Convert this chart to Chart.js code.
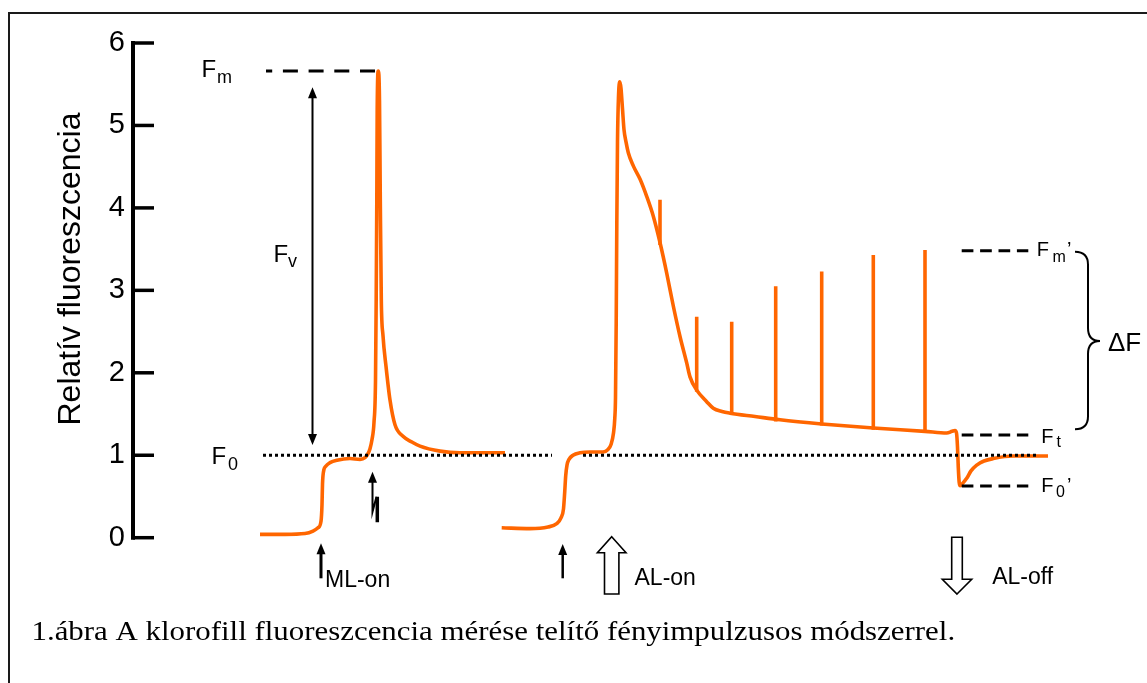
<!DOCTYPE html>
<html><head><meta charset="utf-8">
<script src="https://cdn.jsdelivr.net/npm/chart.js@4/dist/chart.umd.min.js"></script>
<style>html,body{margin:0;padding:0;background:#fff;overflow:hidden}canvas{display:block}</style>
</head><body>
<canvas id="c" width="1147" height="683"></canvas>
<script>
// ---- data (time in arbitrary units, fluorescence relative) ----
const yTicks = [0, 1, 2, 3, 4, 5, 6];
const yTitle = 'Relatív fluoreszcencia';

// dark-adapted trace: ML-on, then saturating pulse (Fm)
const mlTime  = [260, 285, 305, 313, 318, 321, 322, 322.5, 323.5, 326, 330, 337, 350, 360, 365, 368, 370, 372, 374, 375.5, 376.2, 376.8, 377.2, 378.3, 379.5, 380.3, 381.3, 383, 386, 390, 395, 403, 412, 420, 440, 460, 505];
const mlValue = [0.04, 0.04, 0.05, 0.08, 0.12, 0.2, 0.4, 0.65, 0.8, 0.87, 0.91, 0.94, 0.96, 0.95, 0.97, 1.02, 1.08, 1.19, 1.4, 1.9, 2.9, 4.1, 5.2, 5.66, 5.3, 4.1, 2.89, 2.45, 2.08, 1.67, 1.37, 1.23, 1.16, 1.11, 1.05, 1.03, 1.03];

// light-adapted trace: ML-on, AL-on, quenching, AL-off
const alTime  = [501.7, 530, 548, 556.7, 561, 563.5, 564.7, 565.7, 567, 569, 573, 580, 590, 603, 608, 611, 613.5, 614.8, 615.5, 616.2, 616.8, 617.5, 618.5, 619.8, 621, 622.5, 624, 626, 628.3, 633.3, 640, 646.7, 653.3, 660, 666.7, 673.3, 680, 686.7, 690, 696.7, 706.7, 713.3, 722, 730, 755, 780, 821.7, 873.3, 925, 946.7, 952, 955, 956.5, 957.5, 958.3, 959.2, 960.3, 962, 966.7, 971, 976.7, 984, 993.3, 1013, 1048];
const alValue = [0.12, 0.11, 0.13, 0.17, 0.24, 0.35, 0.55, 0.75, 0.88, 0.95, 1.0, 1.03, 1.04, 1.04, 1.07, 1.13, 1.27, 1.45, 1.7, 2.6, 3.8, 4.8, 5.35, 5.53, 5.45, 5.2, 4.95, 4.8, 4.67, 4.51, 4.35, 4.14, 3.90, 3.58, 3.21, 2.81, 2.44, 2.12, 1.95, 1.79, 1.65, 1.57, 1.53, 1.51, 1.47, 1.43, 1.38, 1.33, 1.29, 1.27, 1.29, 1.30, 1.27, 1.1, 0.85, 0.67, 0.63, 0.65, 0.72, 0.81, 0.88, 0.93, 0.96, 0.99, 0.99];

// saturating pulses during actinic light
const pulseTime = [660, 696.7, 731.7, 775.7, 821.7, 873.3, 925];
const pulseBase = [3.55, 1.77, 1.49, 1.41, 1.36, 1.31, 1.27];
const pulseTop  = [4.10, 2.68, 2.62, 3.05, 3.23, 3.43, 3.49];

// reference levels
const levelF0 = 1.0, levelFm = 5.66, levelFmP = 3.48, levelFt = 1.246, levelF0P = 0.627;
const f0LineTime = [263, 552, 583, 1037];
const fmLineTime = [375, 266];
const rightLineTime = [961.7, 1028.3];

const caption = '1.ábra A klorofill fluoreszcencia mérése telítő fényimpulzusos módszerrel.';

// ---- build datasets ----
const ORANGE = '#ff6600';
const SANS = '"Liberation Sans", Arial, sans-serif';
const pts = (xs, ys) => xs.map((x, i) => ({x, y: ys[i]}));
const pulseData = [];
pulseTime.forEach((t, i) => { pulseData.push({x: t, y: pulseBase[i]}, {x: t, y: pulseTop[i]}, {x: t + 0.01, y: null}); });
const f0Data = [{x: f0LineTime[0], y: levelF0}, {x: f0LineTime[1], y: levelF0}, {x: (f0LineTime[1] + f0LineTime[2]) / 2, y: null}, {x: f0LineTime[2], y: levelF0}, {x: f0LineTime[3], y: levelF0}];
const lvl = (xs, v) => xs.map(x => ({x, y: v}));

const dashed = (data, dash, order) => ({data, borderColor: '#000', borderWidth: 3, borderDash: dash, pointRadius: 0, tension: 0, spanGaps: false, order});

const annot = {
  id: 'annot',
  afterDraw(chart) {
    const ctx = chart.ctx, xs = chart.scales.x, ys = chart.scales.y;
    const px = v => xs.getPixelForValue(v), py = v => ys.getPixelForValue(v);
    const y0 = py(0);
    ctx.save();
    // frame
    ctx.strokeStyle = '#1a1a1a'; ctx.lineWidth = 2;
    ctx.beginPath(); ctx.moveTo(9, 690); ctx.lineTo(9, 13); ctx.lineTo(1150, 13); ctx.stroke();
    // y axis line + inward ticks
    const ax = chart.chartArea.left;
    ctx.strokeStyle = '#000'; ctx.lineWidth = 4; ctx.lineCap = 'butt';
    ctx.beginPath(); ctx.moveTo(ax, py(6) - 2); ctx.lineTo(ax, py(0) + 2); ctx.stroke();
    ctx.lineWidth = 3.5;
    yTicks.forEach(v => { ctx.beginPath(); ctx.moveTo(ax, py(v)); ctx.lineTo(ax + 21, py(v)); ctx.stroke(); });
    // y title
    ctx.fillStyle = '#000';
    ctx.save(); ctx.translate(79.5, 269); ctx.rotate(-Math.PI / 2);
    ctx.font = '32px ' + SANS; ctx.textAlign = 'center'; ctx.textBaseline = 'alphabetic';
    ctx.fillText(yTitle, 0, 0); ctx.restore();

    ctx.textAlign = 'left'; ctx.textBaseline = 'alphabetic';
    const txt = (s, x, y, size) => { ctx.font = size + 'px ' + SANS; ctx.fillText(s, x, y); };
    // left labels
    const yFm = py(levelFm), yF0 = py(levelF0);
    txt('F', 201.5, yFm + 5.7, 24); txt('m', 217, yFm + 11.7, 18);
    txt('F', 273.5, py(3.35) + 0.5, 24); txt('v', 288, py(3.35) + 5.5, 18);
    txt('F', 211.5, yF0 + 9, 24); txt('0', 228, yF0 + 14.5, 18);
    // right labels
    const yFmP = py(levelFmP), yFt = py(levelFt), yF0P = py(levelF0P);
    txt('F', 1036.8, yFmP + 5, 20); txt('m', 1052.5, yFmP + 11, 16); txt('\u2019', 1067, yFmP + 5, 20);
    txt('F', 1041.2, yFt + 7.7, 20); txt('t', 1056.5, yFt + 11.7, 16);
    txt('F', 1041.2, yF0P + 5.7, 20); txt('0', 1056, yF0P + 10.7, 16); txt('\u2019', 1067, yF0P + 5.7, 20);
    txt('\u0394F', 1108, py(2.27) + 0.5, 26);
    // brace
    ctx.lineWidth = 2; ctx.strokeStyle = '#000';
    const bt = yFmP + 1, bb = yFt - 5.7, bm = (bt + bb) / 2 + 0.5;
    ctx.beginPath();
    ctx.moveTo(1075, bt);
    ctx.quadraticCurveTo(1088, bt, 1088, bt + 13);
    ctx.lineTo(1088, bm - 13);
    ctx.quadraticCurveTo(1088, bm, 1100, bm);
    ctx.quadraticCurveTo(1088, bm, 1088, bm + 13);
    ctx.lineTo(1088, bb - 13);
    ctx.quadraticCurveTo(1088, bb, 1075, bb);
    ctx.stroke();

    // solid arrows
    const head = (x, tipY, dir, len, half) => {
      ctx.beginPath(); ctx.moveTo(x, tipY); ctx.lineTo(x - half, tipY + dir * len); ctx.lineTo(x + half, tipY + dir * len); ctx.closePath(); ctx.fill();
    };
    // Fv double arrow
    const fvx = px(312.5);
    ctx.lineWidth = 2;
    ctx.beginPath(); ctx.moveTo(fvx, yFm + 22); ctx.lineTo(fvx, yF0 - 16); ctx.stroke();
    head(fvx, yFm + 16.3, 1, 11, 4.5);
    head(fvx, yF0 - 10.3, -1, 11, 4.5);
    // ML-on arrow
    ctx.lineWidth = 3;
    ctx.beginPath(); ctx.moveTo(px(321), y0 + 14); ctx.lineTo(px(321), y0 + 40.6); ctx.stroke();
    head(px(321), y0 + 5.6, 1, 11, 4.5);
    // second ML arrow
    ctx.lineWidth = 2.5;
    ctx.beginPath(); ctx.moveTo(px(562.7), y0 + 14); ctx.lineTo(px(562.7), y0 + 40.6); ctx.stroke();
    head(px(562.7), y0 + 6.3, 1, 11, 4.5);
    // saturating pulse arrow (lightning)
    const lx = px(372.5);
    ctx.lineWidth = 2;
    ctx.beginPath(); ctx.moveTo(lx, yF0 + 24); ctx.lineTo(lx, yF0 + 56.5); ctx.lineTo(lx + 4, yF0 + 41.5); ctx.stroke();
    head(lx, yF0 + 16.5, 1, 11, 4.5);
    ctx.lineWidth = 3.5;
    ctx.beginPath(); ctx.moveTo(lx + 4.8, yF0 + 41.5); ctx.lineTo(lx + 4.8, yF0 + 67); ctx.stroke();

    // hollow arrows
    const hollow = (cx, tipY, baseY, endY, hh, sh) => {
      ctx.beginPath();
      ctx.moveTo(cx, tipY); ctx.lineTo(cx + hh, baseY); ctx.lineTo(cx + sh, baseY); ctx.lineTo(cx + sh, endY);
      ctx.lineTo(cx - sh, endY); ctx.lineTo(cx - sh, baseY); ctx.lineTo(cx - hh, baseY); ctx.closePath();
      ctx.fillStyle = '#fff'; ctx.fill(); ctx.lineWidth = 1.6; ctx.strokeStyle = '#000'; ctx.stroke(); ctx.fillStyle = '#000';
    };
    hollow(px(611.7), y0 - 1, y0 + 15, y0 + 56.3, 14.3, 7.2);
    hollow(px(957), y0 + 56.3, y0 + 41.6, y0 - 0.4, 14.7, 5.3);

    // bottom labels
    txt('ML-on', 325, y0 + 49.6, 23);
    txt('AL-on', 634.5, y0 + 47.3, 23);
    txt('AL-off', 992.2, y0 + 46.3, 23);

    // caption
    ctx.font = '27px "Liberation Serif", "DejaVu Serif", serif';
    const w = ctx.measureText(caption).width;
    ctx.save(); ctx.translate(31.5, 640); ctx.scale(923.6 / w, 1); ctx.fillText(caption, 0, 0); ctx.restore();
    ctx.restore();
  }
};

new Chart(document.getElementById('c'), {
  type: 'line',
  data: {
    datasets: [
      dashed(f0Data, [3, 3], 0),
      dashed(lvl(fmLineTime, levelFm), [15, 10.7], 1),
      dashed(lvl(rightLineTime, levelFmP), [11.7, 6.7], 1),
      dashed(lvl(rightLineTime, levelFt), [11.7, 6.7], 1),
      dashed(lvl(rightLineTime, levelF0P), [11.7, 6.7], 1),
      {data: pts(mlTime, mlValue), borderColor: ORANGE, borderWidth: 3.6, pointRadius: 0, cubicInterpolationMode: 'monotone', order: 2},
      {data: pts(alTime, alValue), borderColor: ORANGE, borderWidth: 3.6, pointRadius: 0, cubicInterpolationMode: 'monotone', order: 2},
      {data: pulseData, borderColor: ORANGE, borderWidth: 3.6, pointRadius: 0, tension: 0, spanGaps: false, borderCapStyle: 'butt', order: 3}
    ]
  },
  options: {
    responsive: false,
    animation: false,
    events: [],
    layout: {padding: {top: 43, bottom: 145.3, left: 0, right: 0}},
    plugins: {legend: {display: false}, tooltip: {enabled: false}, title: {display: false}},
    scales: {
      x: {type: 'linear', min: 133, max: 1147, display: false},
      y: {
        type: 'linear', min: 0, max: 6,
        afterFit: s => { s.width = 133; },
        afterBuildTicks: s => { s.ticks = yTicks.map(v => ({value: v})); },
        ticks: {padding: 8, color: '#000', font: {family: SANS, size: 29}},
        grid: {display: false, drawTicks: false},
        border: {display: false}
      }
    }
  },
  plugins: [annot]
});
</script>
</body></html>
